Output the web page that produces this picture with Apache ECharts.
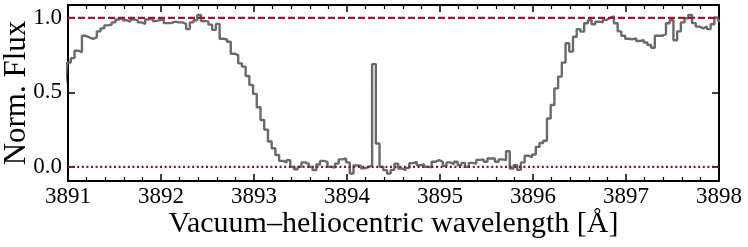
<!DOCTYPE html>
<html>
<head>
<meta charset="utf-8">
<script src="https://cdn.jsdelivr.net/npm/echarts@6/dist/echarts.min.js"></script>
<style>html,body{margin:0;padding:0;background:#fff}#c{width:748px;height:247px}</style>
</head>
<body>
<div id="c"></div>
<script>
// Spectrum: regular wavelength grid (bin centres) and normalised flux per 1 Å segment
const wlStart = 3890.97;   // centre of first (clipped) bin
const wlStep = 0.04;       // bin width [Å]
const fluxEdge = [0.56];
const flux3891 = [0.70, 0.73, 0.78, 0.77, 0.88, 0.87, 0.86, 0.87, 0.91, 0.93, 0.95, 0.955, 0.97, 0.99, 1.00, 0.985, 0.975, 0.99, 0.985, 0.97, 0.96, 0.99, 1.00, 0.98, 0.985];
const flux3892 = [0.99, 0.965, 0.965, 0.975, 0.97, 0.97, 0.96, 0.925, 0.97, 0.985, 1.02, 0.98, 0.975, 0.955, 0.92, 0.96, 0.86, 0.855, 0.84, 0.76, 0.75, 0.695, 0.673, 0.61, 0.55];
const flux3893 = [0.49, 0.40, 0.315, 0.25, 0.17, 0.125, 0.08, 0.04, 0.03, 0.045, 0.0, -0.016, 0.0, 0.03, 0.02, 0.0, -0.022, 0.016, 0.04, 0.034, 0.0, -0.004, 0.022, 0.05, 0.056];
const flux3894 = [0.03, -0.045, 0.01, 0.007, -0.01, -0.002, 0.01, 0.69, 0.157, 0.0, -0.022, -0.045, -0.02, 0.022, -0.011, -0.022, -0.007, 0.025, 0.034, 0.011, 0.016, 0.0, -0.002, 0.034, 0.045];
const flux3895 = [0.034, 0.007, 0.03, 0.018, 0.034, 0.011, 0.027, 0.0, 0.027, 0.022, 0.047, 0.05, 0.034, 0.056, 0.056, 0.034, 0.05, 0.045, 0.105, -0.011, 0.011, -0.02, 0.03, 0.075, 0.065];
const flux3896 = [0.083, 0.134, 0.16, 0.175, 0.325, 0.415, 0.527, 0.606, 0.70, 0.83, 0.774, 0.874, 0.925, 0.908, 0.964, 0.985, 0.958, 0.975, 0.97, 0.987, 1.0, 1.01, 0.964, 0.91, 0.88];
const flux3897 = [0.86, 0.857, 0.863, 0.845, 0.852, 0.835, 0.818, 0.80, 0.88, 0.88, 0.893, 0.964, 0.985, 0.85, 0.91, 0.97, 0.998, 1.02, 0.965, 0.942, 0.93, 0.942, 0.925, 0.958, 1.003, 0.98];

const xTicks = [3891, 3892, 3893, 3894, 3895, 3896, 3897, 3898];
const yTicks = [0.0, 0.5, 1.0];
const continuumLevel = 1.0;
const zeroLevel = 0.0;

const flux = [].concat(fluxEdge, flux3891, flux3892, flux3893, flux3894, flux3895, flux3896, flux3897);
const spectrum = flux.map((f, i) => [wlStart + wlStep * i, f]);

const xMin = xTicks[0], xMax = xTicks[xTicks.length - 1], yMin = -0.095, yMax = 1.087;
const FONT = '"Liberation Serif", "DejaVu Serif", serif';

const chart = echarts.init(document.getElementById('c'), null, {renderer: 'canvas'});

function xAxisCfg(pos, showLabels) {
  return {
    type: 'value', position: pos, min: xMin, max: xMax, interval: 1,
    axisLine: {show: true, onZero: false, lineStyle: {color: '#000', width: 2}},
    axisTick: {show: true, inside: true, length: 7, lineStyle: {color: '#000', width: 1.5}},
    minorTick: {show: true, splitNumber: 5, length: 4, lineStyle: {color: '#000', width: 1.2}},
    splitLine: {show: false},
    axisLabel: {show: showLabels, margin: 4, fontFamily: FONT, fontSize: 23, color: '#000',
      formatter: v => String(Math.round(v))},
    name: showLabels ? 'Vacuum\u2013heliocentric wavelength [\u00C5]' : '',
    nameLocation: 'middle', nameGap: 28, nameMoveOverlap: false,
    nameTextStyle: {fontFamily: FONT, fontSize: 30, color: '#000'}
  };
}
function yAxisCfg(pos, showLabels) {
  return {
    type: 'value', position: pos, min: yMin, max: yMax,
    axisLine: {show: true, onZero: false, lineStyle: {color: '#000', width: 2}},
    axisTick: {show: true, inside: true, length: 7, customValues: yTicks, lineStyle: {color: '#000', width: 1.5}},
    splitLine: {show: false},
    axisLabel: {show: showLabels, margin: 6, fontFamily: FONT, fontSize: 23, color: '#000',
      customValues: yTicks, formatter: v => v.toFixed(1)},
    name: showLabels ? 'Norm. Flux' : '',
    nameLocation: 'middle', nameGap: 36, nameRotate: 90, nameMoveOverlap: false,
    nameTextStyle: {fontFamily: FONT, fontSize: 31, color: '#000'}
  };
}

chart.setOption({
  animation: false,
  backgroundColor: '#fff',
  grid: {left: 68, right: 29, top: 5, bottom: 66, containLabel: false, outerBoundsMode: 'none'},
  xAxis: [xAxisCfg('bottom', true), xAxisCfg('top', false)],
  yAxis: [yAxisCfg('left', true), yAxisCfg('right', false)],
  series: [
    {
      type: 'line', data: spectrum, step: 'middle', showSymbol: false, symbol: 'none',
      clip: true, lineStyle: {color: '#6a6a6a', width: 2.4}, z: 2
    },
    {
      type: 'line', data: [[xMin, continuumLevel], [xMax, continuumLevel]], showSymbol: false, symbol: 'none',
      lineStyle: {color: '#a3162f', width: 2.2, type: [7, 3]}, z: 3
    },
    {
      type: 'line', data: [[xMin, zeroLevel], [xMax, zeroLevel]], showSymbol: false, symbol: 'none',
      lineStyle: {color: '#8e1127', width: 2.2, type: [2, 2.6]}, z: 3
    }
  ]
});
</script>
</body>
</html>
